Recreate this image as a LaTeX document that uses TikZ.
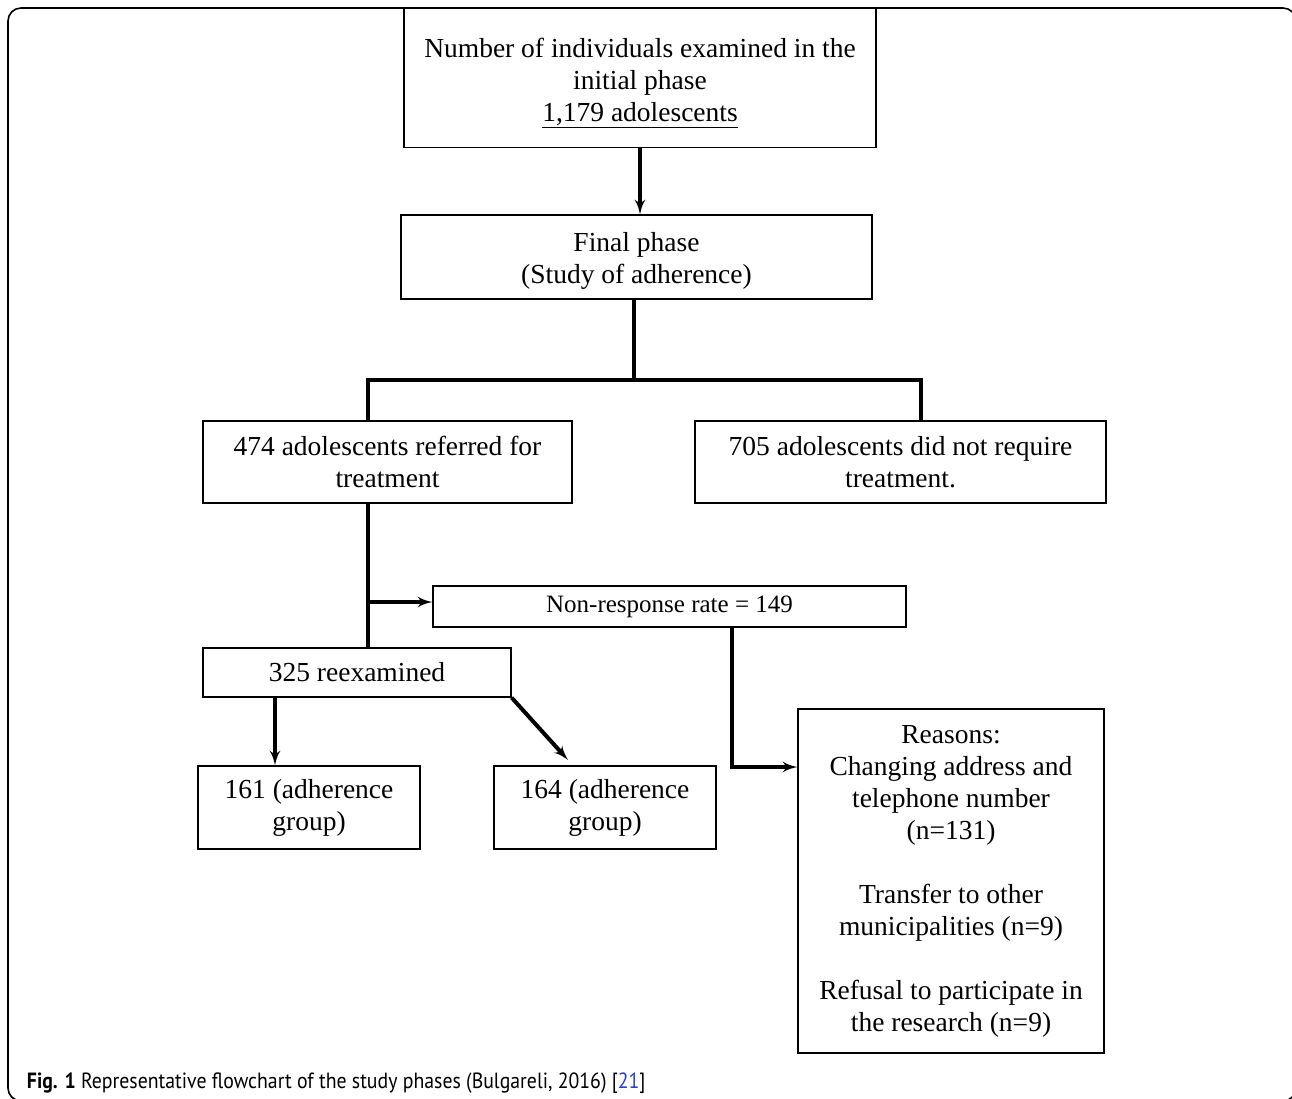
\documentclass[tikz,border=0pt]{standalone}
\usepackage{xcolor}
\usepackage{fontspec}
\setmainfont{Liberation Serif}
\newfontfamily\capfont[FakeStretch=0.9]{PT Sans}
\usepackage{tikz}
\usetikzlibrary{positioning}
\usetikzlibrary{arrows}
\definecolor{refblue}{RGB}{40,60,220}
\tikzset{edge/.style = {->,> = latex'}}

\begin{document}
\begin{tikzpicture}[x=1pt,y=-1pt,line width=4pt,
  box node/.style={draw,line width=1.3pt,inner sep=0pt,align=center,font=\fontsize{27.5}{32}\selectfont}]
                    \useasboundingbox (0,0) rectangle (1292,1098);
                    \clip (0,0) rectangle (1292,1098);
                    \draw[line width=1.6pt,rounded corners=13] (8,8) rectangle (1296,1101);

                    \node[box node,minimum width=472,minimum height=139] (init) at (640,78) {\rule{0pt}{30pt}Number of individuals examined in the\\initial phase\\\underline{1,179 adolescents}};
                    \node[box node,minimum width=471,minimum height=84] (final) at (636.5,257) {\rule{0pt}{26pt}Final phase\\(Study of adherence)};
                    \node[box node,minimum width=369,minimum height=82] (ref) at (387.5,462) {474 adolescents referred for\\treatment};
                    \node[box node,minimum width=411,minimum height=82] (noreq) at (900.5,462) {705 adolescents did not require\\treatment.};
                    \node[box node,minimum width=473,minimum height=41] (nonresp) at (669.5,606.5) {\fontsize{25}{28}\selectfont Non-response rate = 149};
                    \node[box node,minimum width=308,minimum height=49] (reexam) at (357,672.5) {325 reexamined};
                    \node[box node,minimum width=222,minimum height=83] (adh1) at (309,807.5) {161 (adherence\\group)};
                    \node[box node,minimum width=222,minimum height=83] (adh2) at (605,807.5) {164 (adherence\\group)};
                    \node[box node,minimum width=306,minimum height=344] (reasons) at (951,881) {Reasons:\\Changing address and\\telephone number\\(n=131)\\[32pt]Transfer to other\\municipalities (n=9)\\[32pt]Refusal to participate in\\the research (n=9)};

                    \coordinate (trunk) at (634,380);
                    \coordinate (jl) at (368,380);
                    \coordinate (jr) at (921,380);
                    \coordinate (drop) at (732,767);
                    \coordinate (left) at (275,697);
                    \coordinate (diag) at (568,760);

                    \path[edge] (init.south) edge node {} (init.south |- final.north);
                    \draw (trunk |- final.south) -- (trunk);
                    \draw (jl |- ref.north) -- (jl) -- (jr) -- (jr |- noreq.north);
                    \draw (jl |- ref.south) -- (jl |- reexam.north);
                    \path[edge] (368,602) edge node {} (nonresp.west |- 0,602);
                    \draw[edge] (drop |- nonresp.south) -- (drop) -- (reasons.west |- drop);
                    \path[edge] (left) edge node {} (left |- adh1.north);
                    \path[edge] (reexam.south east) edge node {} (diag);

                    \node[anchor=base west,inner sep=0pt,font=\capfont\fontsize{22}{25}\selectfont] (caption) at (25,1088) {\textbf{Fig. 1} Representative flowchart of the study phases (Bulgareli, 2016) [\textcolor{refblue}{21}]};
                \end{tikzpicture}
\end{document}
